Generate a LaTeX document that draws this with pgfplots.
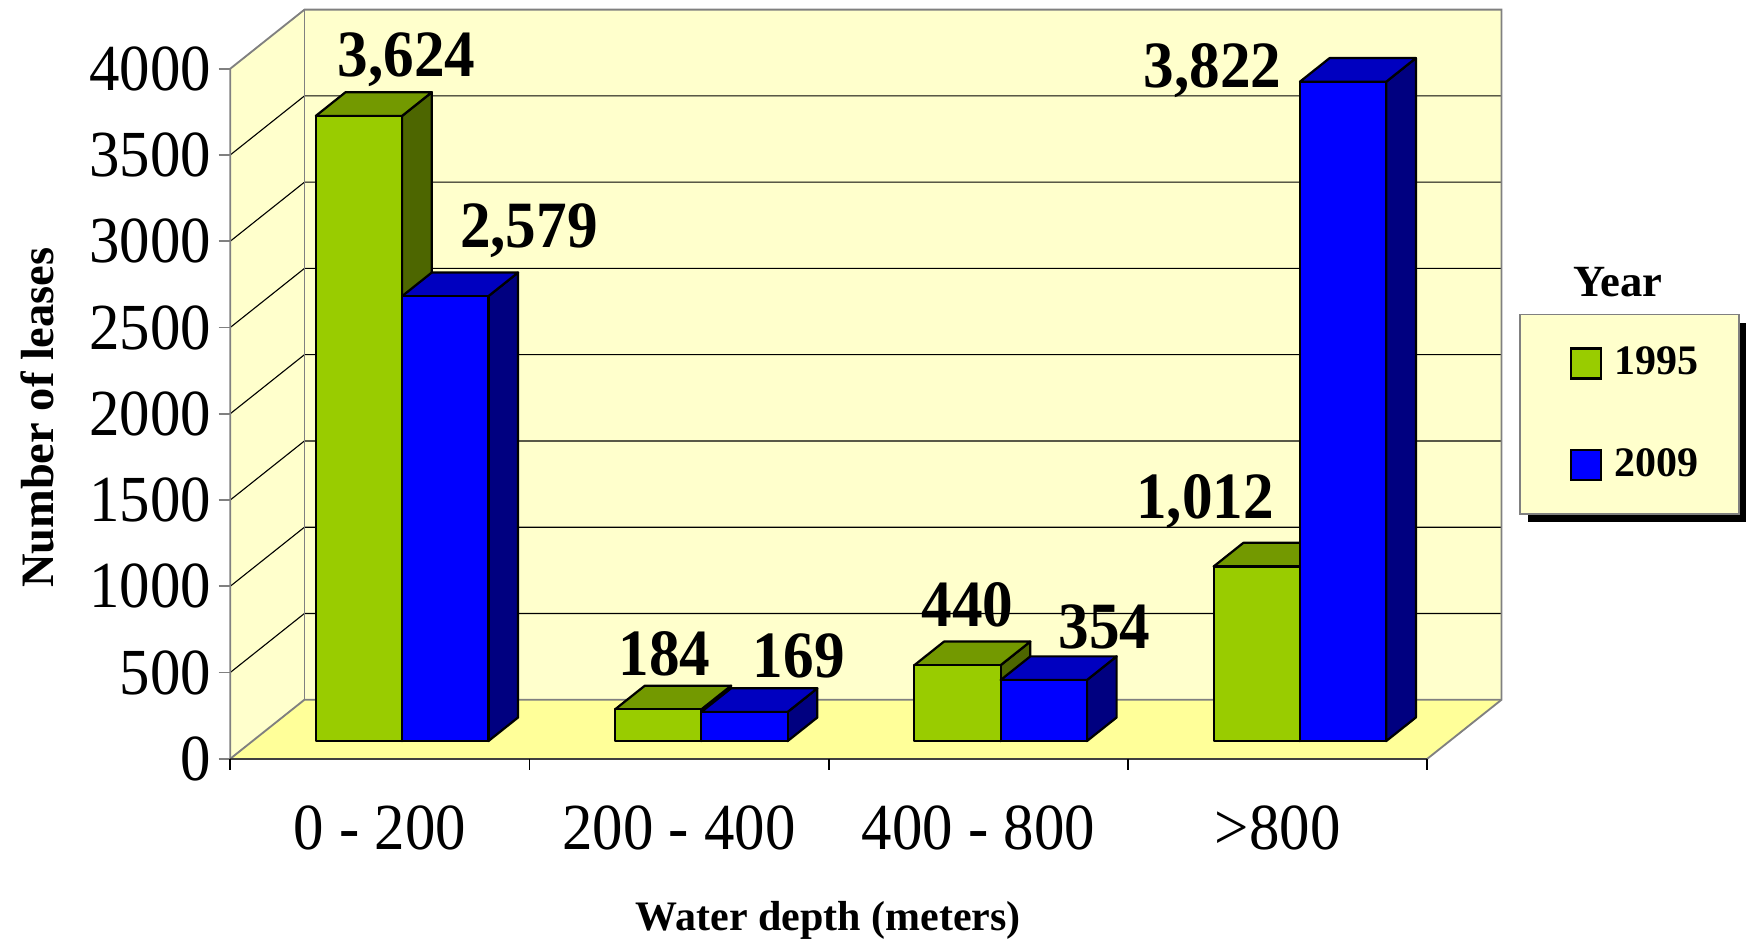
\documentclass[border=0pt]{standalone}
\usepackage{fontspec}
\setmainfont{Liberation Serif}
\newfontfamily\tickfont{Liberation Serif}[FakeStretch=0.925]
\usepackage{pgfplots}
\pgfplotsset{compat=1.18}

\definecolor{wallc}{HTML}{FFFFCC}
\definecolor{floorc}{HTML}{FFFF99}
\definecolor{edgec}{HTML}{808080}
\definecolor{gfront}{HTML}{99CC00}
\definecolor{gtop}{HTML}{739900}
\definecolor{gside}{HTML}{4D6600}
\definecolor{bfront}{HTML}{0000FF}
\definecolor{btop}{HTML}{0000C0}
\definecolor{bside}{HTML}{000080}

% 3-D geometry in data units
\def\DX{0.2481}
\def\DY{342.5}
\def\tA{0.30}
\def\tB{0.70}
\def\bw{0.2883}
\def\LX{-0.2519}
\def\RX{3.7481}

% #1 category, #2 series (0/1), #3 value, #4 front, #5 top, #6 side
\newcommand{\cuboid}[6]{%
  \pgfmathsetmacro{\cXa}{#1-\bw+#2*\bw+\tA*\DX}%
  \pgfmathsetmacro{\cXb}{\cXa+\bw}%
  \pgfmathsetmacro{\cXc}{\cXa+(\tB-\tA)*\DX}%
  \pgfmathsetmacro{\cXd}{\cXc+\bw}%
  \pgfmathsetmacro{\cYa}{\tA*\DY}%
  \pgfmathsetmacro{\cYb}{#3+\tA*\DY}%
  \pgfmathsetmacro{\cYc}{\tB*\DY}%
  \pgfmathsetmacro{\cYd}{#3+\tB*\DY}%
  \addplot[forget plot, draw=black, line width=0.6pt, line join=round, fill=#6]
    coordinates {(\cXb,\cYa) (\cXd,\cYc) (\cXd,\cYd) (\cXb,\cYb)} -- cycle;
  \addplot[forget plot, draw=black, line width=0.6pt, line join=round, fill=#5]
    coordinates {(\cXa,\cYb) (\cXb,\cYb) (\cXd,\cYd) (\cXc,\cYd)} -- cycle;
  \addplot[forget plot, draw=black, line width=0.6pt, line join=round, fill=#4]
    coordinates {(\cXa,\cYa) (\cXb,\cYa) (\cXb,\cYb) (\cXa,\cYb)} -- cycle;
}

\begin{document}
\begin{tikzpicture}
\path[use as bounding box] (0,0) rectangle (470.4pt,254.6pt);
\begin{axis}[
  at={(61.95pt,50.4pt)}, anchor=south west,
  scale only axis, width=342.12pt, height=201.6pt,
  xmin=-0.5, xmax=3.7481, ymin=0, ymax=4342.5,
  clip=false,
  axis line style={draw=none},
  tick align=outside, tick pos=left,
  major tick length=3.1pt,
  xtick={0,1,2,3},
  xticklabels={0 - 200,200 - 400,400 - 800,>800},
  xtick style={draw=none},
  ytick={0,500,1000,1500,2000,2500,3000,3500,4000},
  yticklabels={0,500,1000,1500,2000,2500,3000,3500,4000},
  ytick style={draw=edgec, line width=0.45pt},
  xticklabel style={font=\tickfont\fontsize{17.7}{18}\selectfont, inner sep=0pt, anchor=north, yshift=-9.2pt},
  yticklabel style={font=\tickfont\fontsize{17.7}{18}\selectfont, inner sep=0pt, anchor=east, xshift=-1.9pt},
  xlabel={Water depth (meters)},
  ylabel={Number of leases},
  xlabel style={at={(axis cs:1.4985,-993.9)}, anchor=base, inner sep=0pt, font=\bfseries\fontsize{11.3}{12}\selectfont},
  ylabel style={at={(axis cs:-1.0904,1977.4)}, anchor=base, inner sep=0pt, font=\bfseries\fontsize{12.5}{13}\selectfont},
  legend image code/.code={\path (0pt,0pt); \draw[#1] (2.3pt,-4.05pt) rectangle (10.4pt,4.05pt);},
  legend style={at={(rel axis cs:1.01383,0.5942)}, anchor=north west,
    draw=edgec, line width=0.45pt, fill=wallc,
    font=\bfseries\fontsize{11.3}{12}\selectfont,
    inner xsep=11.05pt, inner ysep=8.7pt, row sep=18.3pt, column sep=3.3pt,
    nodes={inner sep=0pt}},
  legend cell align=left,
]
% walls and floor
\addplot[forget plot, fill=floorc, draw=none] coordinates {(-0.5,0) (3.5,0) (\RX,\DY) (\LX,\DY)} -- cycle;
\addplot[forget plot, fill=wallc, draw=none] coordinates {(-0.5,0) (\LX,\DY) (\LX,4342.5) (-0.5,4000)} -- cycle;
\addplot[forget plot, fill=wallc, draw=none] coordinates {(\LX,\DY) (\RX,\DY) (\RX,4342.5) (\LX,4342.5)} -- cycle;
% grid lines
\pgfplotsinvokeforeach{500,1000,1500,2000,2500,3000,3500}{
  \pgfmathsetmacro{\gY}{#1+\DY}
  \addplot[forget plot, black, line width=0.3pt] coordinates {(-0.5,#1) (\LX,\gY) (\RX,\gY)};
}
% frame edges
\addplot[forget plot, edgec, line width=0.5pt] coordinates {(-0.5,0) (-0.5,4000) (\LX,4342.5) (\RX,4342.5) (\RX,\DY) (3.5,0)};
\addplot[forget plot, edgec, line width=0.5pt] coordinates {(-0.5,0) (\LX,\DY) (\RX,\DY)};
\addplot[forget plot, edgec, line width=0.5pt] coordinates {(\LX,\DY) (\LX,4342.5)};
\addplot[forget plot, black!75, line width=0.45pt] coordinates {(-0.5,0) (3.5,0)};
\pgfplotsinvokeforeach{-0.5,0.5,1.5,2.5,3.5}{
  \addplot[forget plot, black, line width=0.45pt] coordinates {(#1,0) (#1,-65)};
}
% bars
\cuboid{0}{0}{3624}{gfront}{gtop}{gside}
\cuboid{0}{1}{2579}{bfront}{btop}{bside}
\cuboid{1}{0}{184}{gfront}{gtop}{gside}
\cuboid{1}{1}{169}{bfront}{btop}{bside}
\cuboid{2}{0}{440}{gfront}{gtop}{gside}
\cuboid{2}{1}{354}{bfront}{btop}{bside}
\cuboid{3}{0}{1012}{gfront}{gtop}{gside}
\cuboid{3}{1}{3822}{bfront}{btop}{bside}
% legend
\addlegendimage{fill=gfront, draw=black, line width=0.6pt}
\addlegendentry{1995}
\addlegendimage{fill=bfront, draw=black, line width=0.6pt}
\addlegendentry{2009}
% legend shadow
\fill[black] (rel axis cs:1.02085,0.58234) rectangle (rel axis cs:1.19212,0.31597);
% value labels
\begin{scope}[every node/.style={anchor=base, inner sep=0pt, font=\tickfont\bfseries\fontsize{17.8}{18}\selectfont}]
\node at (axis cs:0.0893,3956) {3,624};
\node at (axis cs:0.498,2966) {2,579};
\node at (axis cs:0.951,484.7) {184};
\node at (axis cs:1.400,471.7) {169};
\node at (axis cs:1.964,769) {440};
\node at (axis cs:2.422,642) {354};
\node at (axis cs:2.758,1392) {1,012};
\node at (axis cs:2.782,3890) {3,822};
\end{scope}
\node[anchor=base, inner sep=0pt, font=\bfseries\fontsize{12}{12}\selectfont] at (rel axis cs:1.0917,0.6174) {Year};
\end{axis}
\end{tikzpicture}
\end{document}
